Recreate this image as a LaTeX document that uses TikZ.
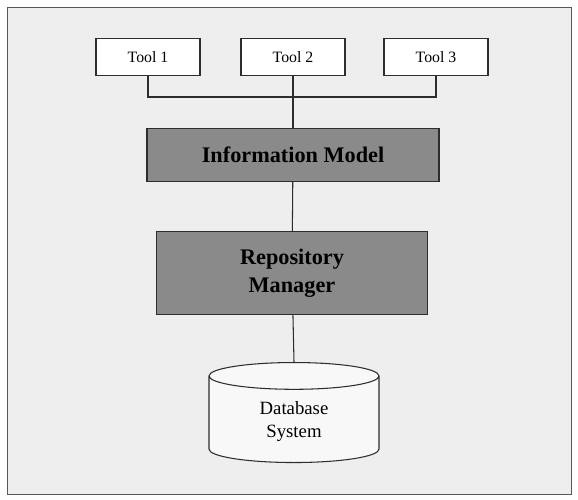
\documentclass[tikz,border=0pt]{standalone}
\usepackage{fontspec}
\setmainfont{Liberation Serif}
\usetikzlibrary{shapes.geometric}
\definecolor{paper}{RGB}{238,238,238}
\definecolor{boxgrey}{RGB}{138,138,138}
\definecolor{ink}{RGB}{45,45,45}
\tikzset{
  tool/.style = {draw=ink, line width=0.9pt, fill=white, minimum width=104*0.03cm, minimum height=37*0.03cm, font=\fontsize{13.5}{16}\selectfont},
  layer/.style = {draw=ink, line width=0.9pt, fill=boxgrey, font=\fontsize{19}{24}\selectfont\bfseries, align=center},
  link/.style = {draw=ink, line width=0.9pt}
}

\begin{document}
\begin{tikzpicture}[x=0.03cm, y=-0.03cm]
\useasboundingbox (0, 0) rectangle (578, 500);
\fill[white!97!paper] (0, 0) rectangle (578, 500);
\draw[ink!80, line width=0.8pt, fill=paper] (7, 7) rectangle (571, 494); % frame
% nodes
\node[tool] (T1) at (148, 57) {Tool 1};
\node[tool] (T2) at (293, 57) {Tool 2};
\node[tool] (T3) at (436, 57) {Tool 3};
\node[layer, minimum width=292*0.03cm, minimum height=53*0.03cm] (IM) at (293, 155) {Information Model};
\node[layer, minimum width=271*0.03cm, minimum height=83*0.03cm] (RM) at (292, 273) {Repository\\Manager};
\node[cylinder, shape border rotate=90, draw=ink, line width=0.9pt, fill=white!60!paper, aspect=0.35,
      minimum width=170*0.03cm, minimum height=100*0.03cm, align=center, anchor=top,
      font=\fontsize{16}{20}\selectfont] (DB) at (294, 362) {Database\\System};
\coordinate (bus) at (293, 97);
% edges
\draw[link] (T1.south) |- (bus) -| (T3.south);
\draw[link] (T2) -- (IM);
\draw[link] (IM) -- (RM);
\draw[link] (RM) -- (DB.top);
\end{tikzpicture}
\end{document}
